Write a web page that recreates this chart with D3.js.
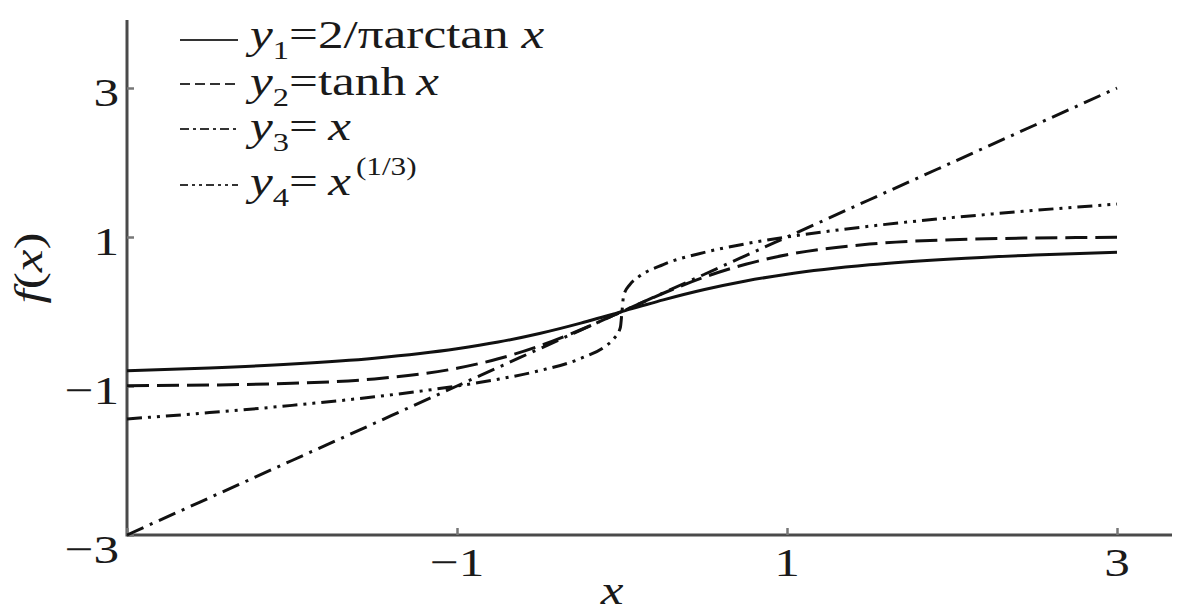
<!DOCTYPE html>
<html>
<head>
<meta charset="utf-8">
<script src="https://cdn.jsdelivr.net/npm/d3@7"></script>
<style>
  html, body { margin: 0; padding: 0; background: #fff; }
  svg text { font-family: "Liberation Serif", "Times New Roman", serif; fill: #1a1a1a; }
</style>
</head>
<body>
<svg id="chart" width="1200" height="615"></svg>
<script>
// ---- data ----
const xValues = [-3, -2.5, -2, -1.5, -1, -0.75, -0.5, -0.25, -0.1, -0.05, -0.01, 0, 0.01, 0.05, 0.1, 0.25, 0.5, 0.75, 1, 1.5, 2, 2.5, 3];
const y1Values = [-0.795, -0.758, -0.705, -0.626, -0.5, -0.41, -0.295, -0.156, -0.063, -0.032, -0.006, 0, 0.006, 0.032, 0.063, 0.156, 0.295, 0.41, 0.5, 0.626, 0.705, 0.758, 0.795];
const y2Values = [-0.995, -0.987, -0.964, -0.905, -0.762, -0.635, -0.462, -0.245, -0.1, -0.05, -0.01, 0, 0.01, 0.05, 0.1, 0.245, 0.462, 0.635, 0.762, 0.905, 0.964, 0.987, 0.995];
const y3Values = [-3, -2.5, -2, -1.5, -1, -0.75, -0.5, -0.25, -0.1, -0.05, -0.01, 0, 0.01, 0.05, 0.1, 0.25, 0.5, 0.75, 1, 1.5, 2, 2.5, 3];
const y4Values = [-1.442, -1.357, -1.26, -1.145, -1, -0.909, -0.794, -0.63, -0.464, -0.368, -0.215, 0, 0.215, 0.368, 0.464, 0.63, 0.794, 0.909, 1, 1.145, 1.26, 1.357, 1.442];
const xTicks = [-3, -1, 1, 3];
const xTickLabels = ["", "\u22121", "1", "3"];
const yTicks = [-3, -1, 1, 3];
const yTickLabels = ["\u22123", "\u22121", "1", "3"];

const svg = d3.select("#chart");
const x = d3.scaleLinear().domain([-3, 3]).range([127, 1117]);
const y = d3.scaleLinear().domain([-3, 3]).range([535, 88]);

const SX = 1.25;      // horizontal stretch of the glyphs in the reference
const FS = 41;

function stretchedText(g, px, py, anchor) {
  return g.append("text")
    .attr("transform", `translate(${px},${py}) scale(${SX},1)`)
    .attr("text-anchor", anchor || "start")
    .style("font-size", FS + "px");
}

// ---- axes ----
const axisColor = "#4a4a4a";
svg.append("line").attr("x1", x(-3)).attr("x2", 1172).attr("y1", y(-3)).attr("y2", y(-3))
  .attr("stroke", axisColor).attr("stroke-width", 3);
svg.append("line").attr("x1", x(-3)).attr("x2", x(-3)).attr("y1", 20).attr("y2", y(-3) + 1.5)
  .attr("stroke", axisColor).attr("stroke-width", 3);

const xAxis = d3.axisBottom(x).tickValues(xTicks).tickSizeInner(-7).tickSizeOuter(0).tickFormat(() => "");
const gx = svg.append("g").attr("transform", `translate(0,${y(-3)})`).call(xAxis);
gx.select(".domain").remove();
gx.selectAll(".tick line").attr("stroke", "#777").attr("stroke-width", 2.5);

const yAxis = d3.axisLeft(y).tickValues(yTicks).tickSizeInner(-7).tickSizeOuter(0).tickFormat(() => "");
const gy = svg.append("g").attr("transform", `translate(${x(-3)},0)`).call(yAxis);
gy.select(".domain").remove();
gy.selectAll(".tick line").attr("stroke", "#777").attr("stroke-width", 2.5);

// tick labels
const labels = svg.append("g");
xTicks.forEach((t, i) => {
  if (!xTickLabels[i]) return;
  stretchedText(labels, x(t), 576, "middle").text(xTickLabels[i]);
});
yTicks.forEach((t, i) => {
  const off = t === -3 ? 28 : 18;
  stretchedText(labels, 119, y(t) + off, "end").text(yTickLabels[i]);
});

// axis titles
const xt = stretchedText(labels, 612, 604, "middle");
xt.append("tspan").style("font-style", "italic").text("x");

const yt = svg.append("text")
  .attr("transform", `translate(42,268) rotate(-90) scale(${SX},1)`)
  .attr("text-anchor", "middle")
  .style("font-size", FS + "px");
yt.append("tspan").style("font-style", "italic").text("f");
yt.append("tspan").text("(");
yt.append("tspan").style("font-style", "italic").text("x");
yt.append("tspan").text(")");

// ---- curves ----
const series = [
  { vals: y1Values, dash: null },
  { vals: y2Values, dash: "22,8" },
  { vals: y3Values, dash: "18,7,3,7" },
  { vals: y4Values, dash: "15,6,3,6,3,6" }
];
const line = d3.line().x(d => x(d[0])).y(d => y(d[1])).curve(d3.curveMonotoneX);
series.forEach(s => {
  svg.append("path")
    .datum(xValues.map((xv, i) => [xv, s.vals[i]]))
    .attr("d", line)
    .attr("fill", "none")
    .attr("stroke", "#111")
    .attr("stroke-width", 3)
    .attr("stroke-dasharray", s.dash);
});

// ---- legend ----
const leg = svg.append("g");
const legendRows = [
  { ly: 40, by: 48, dash: null },
  { ly: 84, by: 95, dash: "10,5" },
  { ly: 129, by: 140, dash: "9,4,3,4" },
  { ly: 185, by: 195, dash: "8,4,3,4,3,4" }
];
legendRows.forEach(r => {
  leg.append("line").attr("x1", 180).attr("x2", 238).attr("y1", r.ly).attr("y2", r.ly)
    .attr("stroke", "#333").attr("stroke-width", 2.2).attr("stroke-dasharray", r.dash);
});

function legendText(row, sub, parts, sup) {
  const t = stretchedText(leg, 250, legendRows[row].by, "start");
  t.append("tspan").style("font-style", "italic").text("y");
  t.append("tspan").attr("dy", 11).style("font-size", "26px").text(sub);
  let first = true;
  parts.forEach(p => {
    const ts = t.append("tspan").text(p.t);
    if (first) { ts.attr("dy", -11); first = false; }
    if (p.i) ts.style("font-style", "italic");
  });
  if (sup) {
    t.append("tspan").attr("dy", -20).attr("dx", 4).style("font-size", "25px").text(sup);
  }
}
legendText(0, "1", [{ t: "=2/\u03c0arctan " }, { t: "x", i: true }]);
legendText(1, "2", [{ t: "=tanh\u2009" }, { t: "x", i: true }]);
legendText(2, "3", [{ t: "=\u2009" }, { t: "x", i: true }]);
legendText(3, "4", [{ t: "=\u2009" }, { t: "x", i: true }], "(1/3)");
</script>
</body>
</html>
